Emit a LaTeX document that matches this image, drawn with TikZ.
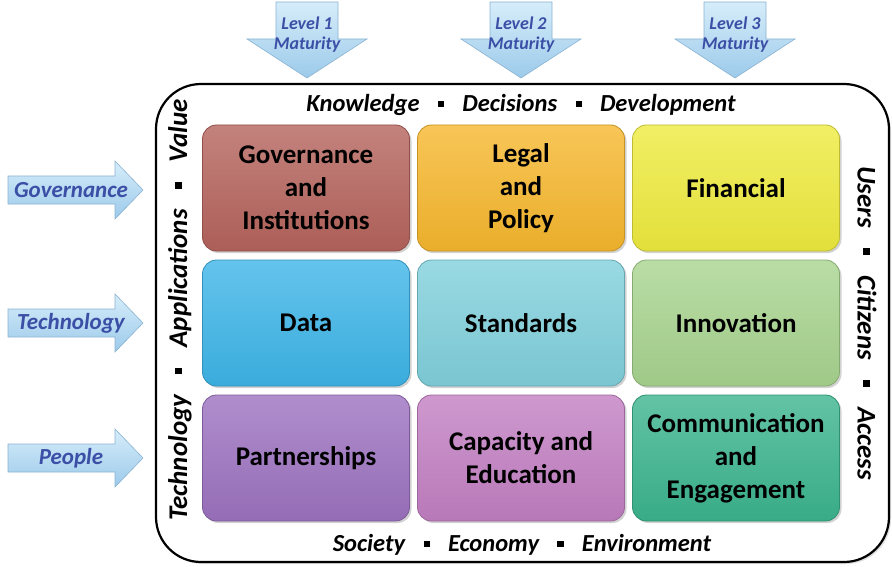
\documentclass[tikz,border=0pt]{standalone}
\usepackage{fontspec}
\setmainfont{Carlito}
\usepackage{tikz}
\usetikzlibrary{positioning,shadows}

\definecolor{govred}{HTML}{B5635C}
\definecolor{legalor}{HTML}{F6B72D}
\definecolor{finyel}{HTML}{EEEB3E}
\definecolor{datablue}{HTML}{3DB5E8}
\definecolor{stdblue}{HTML}{80D0DC}
\definecolor{innogreen}{HTML}{A8D48F}
\definecolor{partpurple}{HTML}{9C72C0}
\definecolor{cappink}{HTML}{C27FC2}
\definecolor{commteal}{HTML}{3BB48E}
\definecolor{arrowtop}{HTML}{D6EDFA}
\definecolor{arrowbot}{HTML}{9CCAEA}
\definecolor{arrowline}{HTML}{8AB2D2}
\definecolor{arrowtext}{HTML}{3B4FA6}

\newcommand{\sqsep}{\hspace{0.75em}\rule[0.2em]{0.25em}{0.25em}\hspace{0.75em}}

\tikzset{
  cell/.style={draw=#1!80!black, line width=0.8pt, rounded corners=14pt,
    minimum width=207pt, minimum height=126pt, align=center,
    top color=#1!80!white, bottom color=#1!95!black,
    drop shadow={opacity=0.35, shadow xshift=2pt, shadow yshift=-2pt},
    font=\fontsize{27}{33}\selectfont\bfseries},
  sidetext/.style={font=\fontsize{24.5}{28}\selectfont\bfseries\itshape},
  vertext/.style={font=\fontsize{27}{30}\selectfont\bfseries\itshape},
  arrowbody/.style={top color=arrowtop, bottom color=arrowbot, draw=arrowline, line width=0.6pt},
  arrowlabel/.style={text=arrowtext, align=center, font=\bfseries\itshape},
}

\begin{document}
\begin{tikzpicture}[x=1pt, y=-1pt]
\useasboundingbox (0,0) rectangle (892,567);
%%%%% Frame %%%%%
\node[draw, line width=2.2pt, rounded corners=45pt, minimum width=733pt, minimum height=478pt,
  drop shadow={opacity=0.25, shadow xshift=2pt, shadow yshift=-2pt}, fill=white] (frame) at (522.5,323) {};
\node[sidetext] (top) at (521,105) {Knowledge\sqsep Decisions\sqsep Development};
\node[sidetext] (bottom) at (522,545) {Society\sqsep Economy\sqsep Environment};
\node[vertext, rotate=90] (left) at (180,310) {Technology\sqsep Applications\sqsep Value};
\node[vertext, rotate=-90] (right) at (867,323) {Users\sqsep Citizens\sqsep Access};
%%%%% Cells %%%%%
\foreach \x/\y/\c/\n/\t in {
  306/188/govred/gov/{Governance\\and\\Institutions},
  521/188/legalor/legal/{Legal\\and\\Policy},
  736/188/finyel/fin/{Financial},
  306/323/datablue/data/{Data},
  521/323/stdblue/std/{Standards},
  736/323/innogreen/inno/{Innovation},
  306/458/partpurple/part/{Partnerships},
  521/458/cappink/cap/{Capacity and\\Education},
  736/458/commteal/comm/{Communication\\and\\Engagement}}{
\node[cell=\c] (\n) at (\x,\y) {\t};
}
%%%%% Maturity arrows %%%%%
\foreach \x/\i in {307/1,521/2,735/3}{
\path[arrowbody] (\x-31,2)--(\x+31,2)--(\x+31,39)--(\x+60,39)--(\x,78)--(\x-60,39)--(\x-31,39)--cycle;
\node[arrowlabel, font=\fontsize{18}{20}\selectfont\bfseries\itshape] (lvl\i) at (\x,35) {Level \i\\Maturity};
}
%%%%% Row arrows %%%%%
\foreach \y/\t in {190/Governance,323/Technology,458/People}{
\path[arrowbody] (8,\y-14)--(115,\y-14)--(115,\y-29)--(143,\y)--(115,\y+29)--(115,\y+14)--(8,\y+14)--cycle;
\node[arrowlabel, font=\fontsize{23}{26}\selectfont\bfseries\itshape] (row\t) at (71,\y) {\t};
}
\end{tikzpicture}
\end{document}
